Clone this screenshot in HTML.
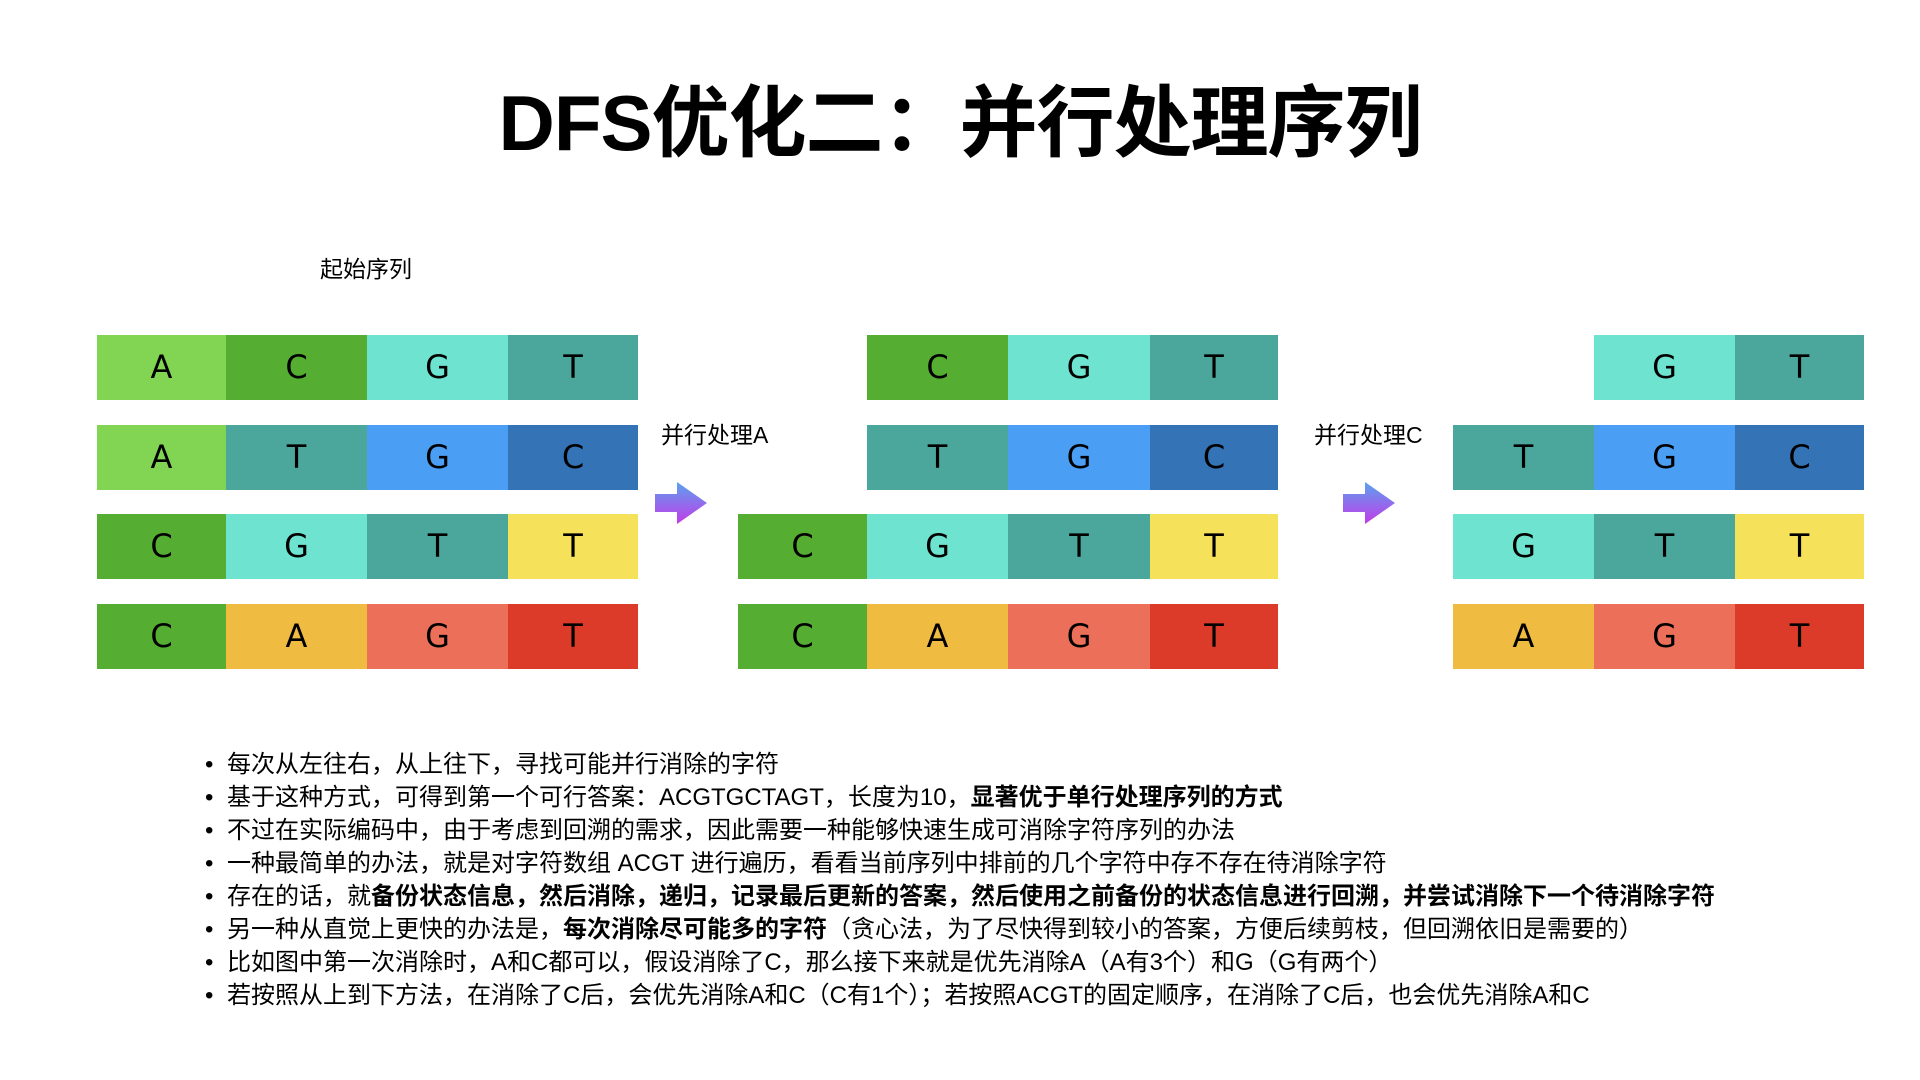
<!DOCTYPE html>
<html><head><meta charset="utf-8"><style>
body{margin:0;width:1920px;height:1080px;background:#fff;position:relative;overflow:hidden;font-family:"Liberation Sans","Noto Sans CJK SC",sans-serif;color:#000}
.t{position:absolute;left:0;width:1920px;top:73px;text-align:center;font-size:78px;font-weight:bold;line-height:100px;letter-spacing:-1px}
.c{position:absolute;height:65px;line-height:65px;text-align:center;font-size:32px;font-family:"DejaVu Sans","Liberation Sans",sans-serif;font-weight:normal}
.lab{position:absolute;font-size:23px;line-height:30px}
.ul{position:absolute;left:205px;top:748px;margin:0;padding:0;list-style:none;font-size:24px}
.ul li{height:33px;line-height:33px;white-space:nowrap}
.ul li:before{content:"•";display:inline-block;width:22px;margin-left:0}
b{font-weight:bold}
</style></head><body>
<div class="t">DFS优化二：并行处理序列</div>
<div class="lab" style="left:320px;top:254px">起始序列</div>
<div class="lab" style="left:661px;top:420px">并行处理A</div>
<div class="lab" style="left:1314px;top:420px">并行处理C</div>
<svg style="position:absolute;left:655px;top:482px" width="56" height="42"><defs><linearGradient id="g" x1="0" y1="0" x2="0" y2="1"><stop offset="0" stop-color="#5aa2f0"/><stop offset="1" stop-color="#c43ae8"/></linearGradient></defs><path d="M0 12H22V0L52 21L22 42V30H0Z" fill="url(#g)"/></svg>
<svg style="position:absolute;left:1343px;top:482px" width="56" height="42"><path d="M0 12H22V0L52 21L22 42V30H0Z" fill="url(#g)"/></svg>
<div id="cells"></div>
<script>
var L=[97,226,367,508,638],M=[738,867,1008,1150,1278],R=[1453,1594,1735,1864],Y=[335,425,514,604];
var col={A1:'#82d552',C:'#55ad32',Ga:'#6ee4d0',T:'#4ba69c',B:'#4a9ff5',D:'#3474b6',Y:'#f5e25a',O:'#efbb40',S:'#ec6f5a',Rd:'#db3b28'};
var rows=[
[L,0,[['A','A1'],['C','C'],['G','Ga'],['T','T']],0],
[L,0,[['A','A1'],['T','T'],['G','B'],['C','D']],1],
[L,0,[['C','C'],['G','Ga'],['T','T'],['T','Y']],2],
[L,0,[['C','C'],['A','O'],['G','S'],['T','Rd']],3],
[M,1,[['C','C'],['G','Ga'],['T','T']],0],
[M,1,[['T','T'],['G','B'],['C','D']],1],
[M,0,[['C','C'],['G','Ga'],['T','T'],['T','Y']],2],
[M,0,[['C','C'],['A','O'],['G','S'],['T','Rd']],3],
[R,1,[['G','Ga'],['T','T']],0],
[R,0,[['T','T'],['G','B'],['C','D']],1],
[R,0,[['G','Ga'],['T','T'],['T','Y']],2],
[R,0,[['A','O'],['G','S'],['T','Rd']],3]];
var h='';rows.forEach(function(r){var xs=r[0],s=r[1];r[2].forEach(function(c,i){var x=xs[s+i],w=xs[s+i+1]-x;h+='<div class="c" style="left:'+x+'px;top:'+Y[r[3]]+'px;width:'+w+'px;background:'+col[c[1]]+'">'+c[0]+'</div>';});});
document.getElementById('cells').innerHTML=h;
</script>
<ul class="ul">
<li>每次从左往右，从上往下，寻找可能并行消除的字符</li>
<li>基于这种方式，可得到第一个可行答案：ACGTGCTAGT，长度为10，<b>显著优于单行处理序列的方式</b></li>
<li>不过在实际编码中，由于考虑到回溯的需求，因此需要一种能够快速生成可消除字符序列的办法</li>
<li>一种最简单的办法，就是对字符数组 ACGT 进行遍历，看看当前序列中排前的几个字符中存不存在待消除字符</li>
<li>存在的话，就<b>备份状态信息，然后消除，递归，记录最后更新的答案，然后使用之前备份的状态信息进行回溯，并尝试消除下一个待消除字符</b></li>
<li>另一种从直觉上更快的办法是，<b>每次消除尽可能多的字符</b>（贪心法，为了尽快得到较小的答案，方便后续剪枝，但回溯依旧是需要的）</li>
<li>比如图中第一次消除时，A和C都可以，假设消除了C，那么接下来就是优先消除A（A有3个）和G（G有两个）</li>
<li>若按照从上到下方法，在消除了C后，会优先消除A和C（C有1个）；若按照ACGT的固定顺序，在消除了C后，也会优先消除A和C</li>
</ul>
</body></html>
